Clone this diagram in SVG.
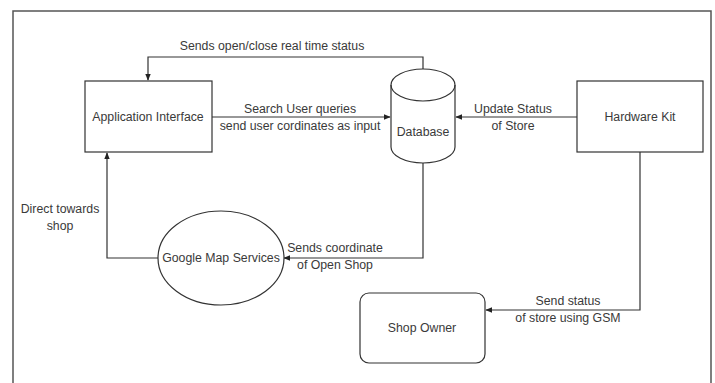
<svg xmlns="http://www.w3.org/2000/svg" width="715" height="383" viewBox="0 0 715 383">
<style>
.s{fill:none;stroke:#333;stroke-width:1.2}
.n{fill:#fff;stroke:#333;stroke-width:1.2}
text{font-family:"Liberation Sans",Arial,sans-serif;font-size:12.3px;fill:#3a3a3a;text-anchor:middle}
</style>
<defs>
<marker id="a" viewBox="0 0 10 10" refX="9" refY="5" markerWidth="7" markerHeight="7" orient="auto" markerUnits="userSpaceOnUse">
<path d="M0,1 L10,5 L0,9 Z" fill="#222"/>
</marker>
</defs>
<rect x="0" y="0" width="715" height="383" fill="#fff"/>
<rect x="13" y="11" width="698" height="375" fill="none" stroke="#555" stroke-width="1.5"/>
<g id="connectors">
<path class="s" d="M423,70 V57 H148 V80" marker-end="url(#a)"/>
<path class="s" d="M212,117 H390" marker-end="url(#a)"/>
<path class="s" d="M577,117 H456" marker-end="url(#a)"/>
<path class="s" d="M423,163 V258 H284" marker-end="url(#a)"/>
<path class="s" d="M158,258 H107 V153" marker-end="url(#a)"/>
<path class="s" d="M640,152 V310 H486" marker-end="url(#a)"/>
<text x="272" y="50">Sends open/close real time status</text>
<text x="300" y="113">Search User queries</text>
<text x="300" y="130">send user cordinates as input</text>
<text x="513" y="113">Update Status</text>
<text x="513" y="130">of Store</text>
<text x="335" y="252">Sends coordinate</text>
<text x="335" y="269">of Open Shop</text>
<text x="60" y="213">Direct towards</text>
<text x="60" y="230">shop</text>
<text x="568" y="305">Send status</text>
<text x="568" y="322">of store using GSM</text>
</g>
<g id="app">
<rect class="n" x="85" y="81" width="127" height="71"/>
<text x="148" y="121">Application Interface</text>
</g>
<g id="database">
<path class="n" d="M391,85 A32,16 0 0 1 455,85 V147 A32,16 0 0 1 391,147 Z"/>
<path class="s" d="M391,85 A32,16 0 0 0 455,85"/>
<text x="423" y="136">Database</text>
</g>
<g id="hardware">
<rect class="n" x="577" y="81" width="126" height="71"/>
<text x="640" y="121">Hardware Kit</text>
</g>
<g id="google">
<ellipse class="n" cx="221" cy="258" rx="63" ry="47"/>
<text x="221" y="262">Google Map Services</text>
</g>
<g id="owner">
<rect class="n" x="360" y="293" width="125" height="70" rx="9"/>
<text x="422" y="332">Shop Owner</text>
</g>
</svg>
